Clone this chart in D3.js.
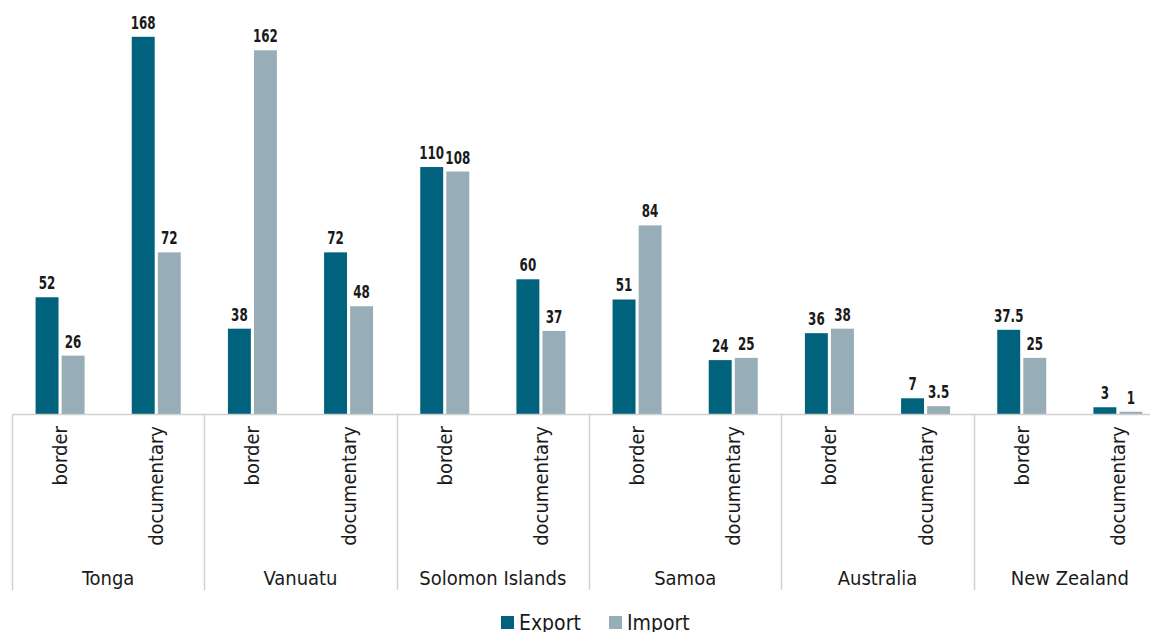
<!DOCTYPE html>
<html>
<head>
<meta charset="utf-8">
<script src="https://cdn.jsdelivr.net/npm/d3@7.9.0/dist/d3.min.js"></script>
<style>
  body { margin: 0; background: #fff; }
  text { font-family: "Liberation Sans Narrow", "DejaVu Sans Condensed", Roboto, sans-serif; }
</style>
</head>
<body>
<svg id="chart" width="1150" height="632"></svg>
<script>
const countries = ['Tonga', 'Vanuatu', 'Solomon Islands', 'Samoa', 'Australia', 'New Zealand'];
const types = ['border', 'documentary'];
const series = ['Export', 'Import'];
// values in order: country x type
const exportVals = [52, 168, 38, 72, 110, 60, 51, 24, 36, 7, 37.5, 3];
const importVals = [26, 72, 162, 48, 108, 37, 84, 25, 38, 3.5, 25, 1];
const colors = ['#00627d', '#97adb8'];

const svg = d3.select('#chart');
const left = 12, right = 1166, base = 414;

let rows = [];
countries.forEach((c, i) => {
    types.forEach((t, j) => {
        const k = i * 2 + j;
        rows.push({key: c + '|' + t, country: c, type: t, vals: [exportVals[k], importVals[k]]});
    });
});

const x0 = d3.scaleBand().domain(rows.map(d => d.key)).range([left, right]);
const x1 = d3.scaleBand().domain(series).range([x0.bandwidth() / 2 - 24.5, x0.bandwidth() / 2 + 24.5]).paddingInner(0.12);
const xc = d3.scaleBand().domain(countries).range([left, right]);
const y = d3.scaleLinear().domain([0, 184.4]).range([base, 0]);

const g = svg.selectAll('g.row').data(rows).join('g')
    .attr('transform', d => `translate(${x0(d.key)},0)`);

g.selectAll('rect').data(d => d.vals.map((v, i) => ({v, s: series[i], i}))).join('rect')
    .attr('x', d => x1(d.s))
    .attr('width', x1.bandwidth())
    .attr('y', d => y(d.v))
    .attr('height', d => base - y(d.v))
    .attr('fill', d => colors[d.i]);

// value labels, squeezed to look like the condensed face of the original
g.selectAll('text.val').data(d => d.vals.map((v, i) => ({v, s: series[i]}))).join('text')
    .attr('class', 'val')
    .attr('transform', d => `translate(${x1(d.s) + x1.bandwidth() / 2},${y(d.v) - 8}) scale(0.78,1)`)
    .attr('text-anchor', 'middle')
    .attr('font-size', 17)
    .attr('font-weight', 'bold')
    .attr('fill', '#1a1a1a')
    .text(d => d.v);

// sub category labels
g.append('text')
    .attr('transform', d => `translate(${x0.bandwidth() / 2 + 7},426) rotate(-90)`)
    .attr('text-anchor', 'end')
    .attr('font-size', 20)
    .attr('fill', '#1a1a1a')
    .text(d => d.type);

// axis line and dividers
svg.append('line').attr('x1', left).attr('x2', right).attr('y1', base + 0.5).attr('y2', base + 0.5)
    .attr('stroke', '#d0d0d0').attr('stroke-width', 1.5);
svg.selectAll('line.div').data(countries.concat(['end'])).join('line')
    .attr('class', 'div')
    .attr('x1', (d, i) => Math.round(left + i * xc.step()) + 0.5)
    .attr('x2', (d, i) => Math.round(left + i * xc.step()) + 0.5)
    .attr('y1', base).attr('y2', 590)
    .attr('stroke', '#d0d0d0').attr('stroke-width', 1.5);

svg.selectAll('text.cat').data(countries).join('text')
    .attr('class', 'cat')
    .attr('x', d => xc(d) + xc.bandwidth() / 2)
    .attr('y', 585)
    .attr('text-anchor', 'middle')
    .attr('font-size', 20)
    .attr('fill', '#1a1a1a')
    .text(d => d);

// legend
const leg = svg.append('g');
const legX = [501, 609];
series.forEach((s, i) => {
    leg.append('rect').attr('x', legX[i]).attr('y', 616).attr('width', 13).attr('height', 13).attr('fill', colors[i]);
    leg.append('text').attr('x', legX[i] + 18).attr('y', 630).attr('font-size', 21).attr('fill', '#1a1a1a').text(s);
});
</script>
</body>
</html>
